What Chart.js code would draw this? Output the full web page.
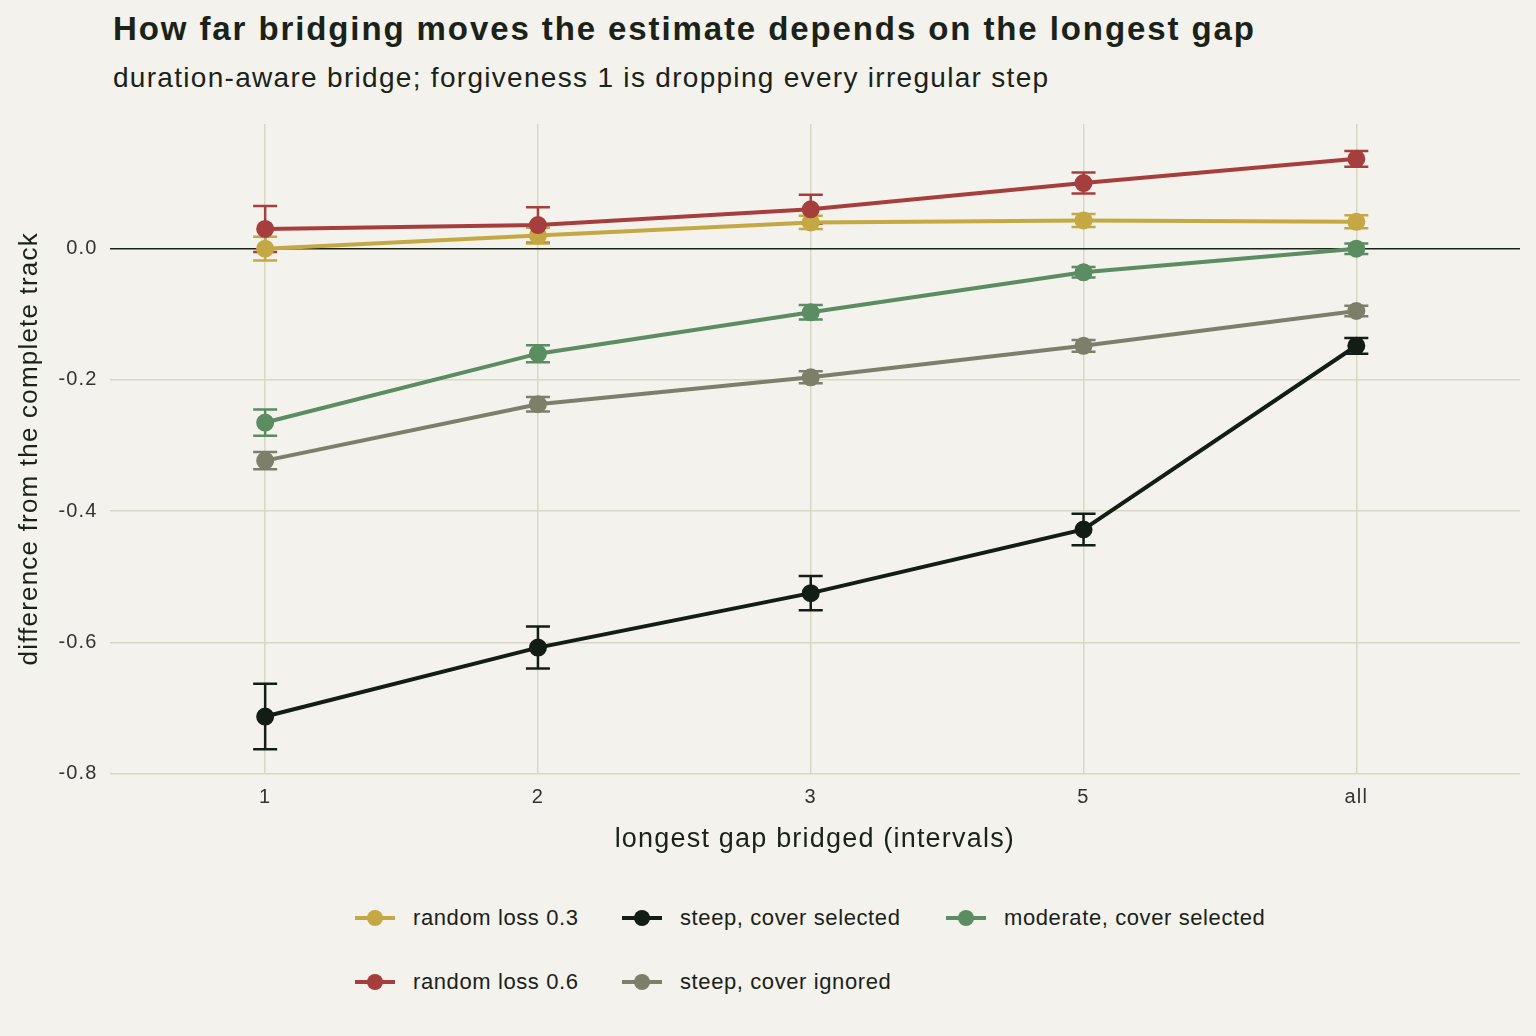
<!DOCTYPE html>
<html><head><meta charset="utf-8">
<script src="https://cdn.jsdelivr.net/npm/chart.js@4/dist/chart.umd.min.js"></script>
<style>
body{margin:0;background:#f3f2ec;font-family:"Liberation Sans",Arial,sans-serif;color:#1a2219;}
#title{position:absolute;left:113px;top:10px;font-size:33px;font-weight:bold;letter-spacing:1.9px;}
#sub{position:absolute;left:113px;top:62px;font-size:28px;letter-spacing:1.3px;}
#wrap{position:absolute;left:0;top:100px;width:1536px;height:760px;}
#legend{position:absolute;left:355px;top:905px;font-size:22px;letter-spacing:0.6px;display:grid;grid-template-columns:267px 324px 330px;row-gap:38px;}
.it{display:flex;align-items:center;}
.sw{position:relative;width:40px;height:4px;margin-right:18px;}
.sw i{position:absolute;left:12px;top:-6px;width:16px;height:16px;border-radius:50%;}
</style></head><body>
<div id="title">How far bridging moves the estimate depends on the longest gap</div>
<div id="sub">duration-aware bridge; forgiveness 1 is dropping every irregular step</div>
<div id="wrap"><canvas id="c"></canvas></div>
<div id="legend"></div>
<script>
const categories = ['1', '2', '3', '5', 'all'];
const names = ['random loss 0.3', 'steep, cover selected', 'moderate, cover selected', 'random loss 0.6', 'steep, cover ignored'];
const colors = ['#c4a843', '#141c16', '#5b8c62', '#a63e3e', '#7d7f6b'];
const random03 = [0.0, 0.02, 0.04, 0.043, 0.041];
const random03Err = [0.018, 0.012, 0.01, 0.01, 0.01];
const steepSel = [-0.713, -0.608, -0.525, -0.428, -0.148];
const steepSelErr = [0.05, 0.032, 0.026, 0.024, 0.012];
const moderate = [-0.265, -0.16, -0.097, -0.036, 0.0];
const moderateErr = [0.02, 0.013, 0.011, 0.008, 0.008];
const random06 = [0.03, 0.036, 0.06, 0.1, 0.137];
const random06Err = [0.035, 0.027, 0.022, 0.016, 0.012];
const steepIgn = [-0.323, -0.237, -0.196, -0.148, -0.095];
const steepIgnErr = [0.013, 0.011, 0.009, 0.009, 0.008];

const values = [random03, steepSel, moderate, random06, steepIgn];
const errs = [random03Err, steepSelErr, moderateErr, random06Err, steepIgnErr];
const drawOrder = [1, 4, 2, 3, 0];

const datasets = drawOrder.map(k => ({
    label: names[k],
    data: values[k].map((v, i) => ({x: i, y: v})),
    err: errs[k],
    borderColor: colors[k],
    backgroundColor: colors[k],
    borderWidth: 4,
    pointRadius: 7,
    pointHoverRadius: 7
}));

// error bars drawn through the scales
const errorBars = {
    id: 'errorBars',
    beforeDraw(chart) {
        chart.ctx.letterSpacing = '1.2px';
    },
    beforeDatasetsDraw(chart) {
        const ctx = chart.ctx, xs = chart.scales.x, ys = chart.scales.y;
        ctx.save();
        chart.data.datasets.forEach(ds => {
            ctx.strokeStyle = ds.borderColor;
            ctx.lineWidth = 2.5;
            ds.data.forEach((p, i) => {
                const x = xs.getPixelForValue(p.x);
                const y1 = ys.getPixelForValue(p.y + ds.err[i]);
                const y2 = ys.getPixelForValue(p.y - ds.err[i]);
                ctx.beginPath();
                ctx.moveTo(x, y1); ctx.lineTo(x, y2);
                ctx.moveTo(x - 12, y1); ctx.lineTo(x + 12, y1);
                ctx.moveTo(x - 12, y2); ctx.lineTo(x + 12, y2);
                ctx.stroke();
            });
        });
        ctx.restore();
    }
};

new Chart(document.getElementById('c'), {
    type: 'line',
    data: {datasets: datasets},
    plugins: [errorBars],
    options: {
        animation: false,
        maintainAspectRatio: false,
        layout: {padding: {top: 2, right: 16, left: 10}},
        plugins: {legend: {display: false}, tooltip: {enabled: false}},
        scales: {
            x: {
                type: 'linear', min: -0.57, max: 4.6,
                afterBuildTicks: ax => { ax.ticks = categories.map((c, i) => ({value: i})); },
                ticks: {callback: v => categories[v], color: '#333', font: {size: 20}, padding: 12},
                grid: {color: '#d8d7c4', lineWidth: 1.5, drawTicks: false},
                border: {display: false},
                title: {display: true, text: 'longest gap bridged (intervals)', color: '#1a2219', font: {size: 27}, padding: {top: 2}}
            },
            y: {
                min: -0.8, max: 0.19,
                afterBuildTicks: ax => { ax.ticks = [-0.8, -0.6, -0.4, -0.2, 0].map(v => ({value: v})); },
                ticks: {callback: v => v.toFixed(1), color: '#333', font: {size: 20}, padding: 12},
                grid: {color: c => c.tick.value === 0 ? '#1a2219' : '#d8d7c4', lineWidth: 1.5, drawTicks: false},
                border: {display: false},
                title: {display: true, text: 'difference from the complete track', color: '#1a2219', font: {size: 26}, padding: {bottom: 6}}
            }
        }
    }
});

const lg = document.getElementById('legend');
names.forEach((n, k) => {
    lg.innerHTML += '<div class="it"><span class="sw" style="background:' + colors[k] + '"><i style="background:' + colors[k] + '"></i></span>' + n + '</div>';
});
</script>
</body></html>
